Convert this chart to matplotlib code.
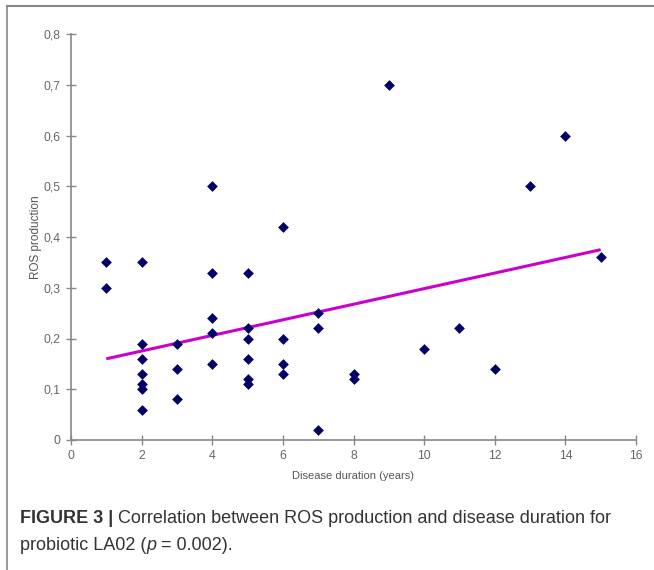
import matplotlib
matplotlib.use("Agg")
import matplotlib.pyplot as plt
from matplotlib.lines import Line2D

# Data
duration = [1, 1,
            2, 2, 2, 2, 2, 2, 2,
            3, 3, 3,
            4, 4, 4, 4, 4,
            5, 5, 5, 5, 5, 5,
            6, 6, 6, 6,
            7, 7, 7,
            8, 8,
            9, 10, 11, 12, 13, 14, 15]
ros = [0.35, 0.30,
       0.35, 0.19, 0.16, 0.13, 0.11, 0.10, 0.06,
       0.19, 0.14, 0.08,
       0.50, 0.33, 0.24, 0.21, 0.15,
       0.33, 0.22, 0.20, 0.16, 0.12, 0.11,
       0.42, 0.20, 0.15, 0.13,
       0.25, 0.22, 0.02,
       0.13, 0.12,
       0.70, 0.18, 0.22, 0.14, 0.50, 0.60, 0.36]
trend_x = [1, 15]
trend_y = [0.16, 0.375]
x_ticks = [0, 2, 4, 6, 8, 10, 12, 14, 16]
y_ticks = [0, 0.1, 0.2, 0.3, 0.4, 0.5, 0.6, 0.7, 0.8]
y_tick_labels = ["0", "0,1", "0,2", "0,3", "0,4", "0,5", "0,6", "0,7", "0,8"]

plt.rcParams['font.family'] = ['Liberation Sans', 'DejaVu Sans']

fig = plt.figure(figsize=(6.54, 5.70), dpi=100)
ax = fig.add_axes([71/654, 1-440/570, (636-71)/654, (440-34)/570])

ax.plot(trend_x, trend_y, color='#cc00cc', lw=2.2, solid_capstyle='butt', zorder=2)
ax.scatter(duration, ros, marker='D', s=30, color='#000066', zorder=3, linewidths=0)

ax.set_xlim(0, 16)
ax.set_ylim(0, 0.8)
ax.set_xticks(x_ticks)
ax.set_xticklabels([str(t) for t in x_ticks])
ax.set_yticks(y_ticks)
ax.set_yticklabels(y_tick_labels)

for s in ['top', 'right']:
    ax.spines[s].set_visible(False)
for s in ['left', 'bottom']:
    ax.spines[s].set_color('#888888')
    ax.spines[s].set_linewidth(1.2)
ax.tick_params(direction='inout', length=7, width=1.0, color='#888888',
               labelcolor='#666666', labelsize=8.8, pad=4)

ax.set_xlabel('Disease duration (years)', fontsize=8, color='#555555', labelpad=6)
ax.set_ylabel('ROS production', fontsize=8.5, color='#555555', labelpad=1)

# Frame lines (top and left)
fig.add_artist(Line2D([7/654, 7/654], [0, 1-6/570], transform=fig.transFigure,
                      color='#888888', lw=1.2))
fig.add_artist(Line2D([7/654, 1], [1-6/570, 1-6/570], transform=fig.transFigure,
                      color='#888888', lw=1.5))

# Caption
fig.canvas.draw()
renderer = fig.canvas.get_renderer()
cap_fs = 13
cap_col = '#333333'
x0 = 20/654
y1 = 1-523/570
y2 = 1-550/570
t1 = fig.text(x0, y1, 'FIGURE 3 | ', fontsize=cap_fs, fontweight='bold', color=cap_col)
bb = t1.get_window_extent(renderer)
fig.text(bb.x1/fig.bbox.width, y1, 'Correlation between ROS production and disease duration for',
         fontsize=cap_fs, color=cap_col)
t2 = fig.text(x0, y2, 'probiotic LA02 (', fontsize=cap_fs, color=cap_col)
bb = t2.get_window_extent(renderer)
t3 = fig.text(bb.x1/fig.bbox.width, y2, 'p', fontsize=cap_fs, style='italic', color=cap_col)
bb = t3.get_window_extent(renderer)
fig.text(bb.x1/fig.bbox.width, y2, ' = 0.002).', fontsize=cap_fs, color=cap_col)

fig.savefig('out.png', dpi=100)
